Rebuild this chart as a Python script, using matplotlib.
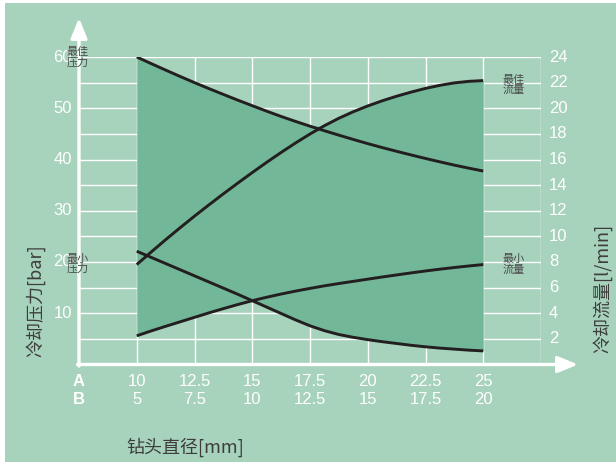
import numpy as np
import matplotlib
matplotlib.use("Agg")
import matplotlib.pyplot as plt
from matplotlib.patches import Rectangle

plt.rcParams['font.family'] = ['Liberation Sans', 'Noto Sans CJK SC', 'DejaVu Sans']

# ---- data (diameter A in mm) ----
diam_a = [10, 10.625, 11.25, 11.875, 12.5, 13.125, 13.75, 14.375, 15, 15.625, 16.25, 16.875,
          17.5, 18.125, 18.75, 19.375, 20, 20.625, 21.25, 21.875, 22.5, 23.125, 23.75, 24.375, 25]
max_pressure = [60, 58.71, 57.45, 56.21, 55.0, 53.83, 52.7, 51.58, 50.5, 49.43, 48.4, 47.43,
                46.5, 45.61, 44.75, 43.91, 43.1, 42.33, 41.6, 40.89, 40.2, 39.54, 38.9, 38.31, 37.75]   # bar
min_pressure = [22.1, 20.9, 19.7, 18.5, 17.3, 16.1, 14.9, 13.7, 12.45, 11.2, 9.95, 8.7,
                7.55, 6.6, 5.85, 5.3, 4.85, 4.45, 4.1, 3.75, 3.45, 3.2, 3.0, 2.8, 2.65]                # bar
max_flow = [7.80, 8.78, 9.74, 10.67, 11.58, 12.46, 13.32, 14.16, 14.98, 15.78, 16.55, 17.29,
            17.99, 18.64, 19.22, 19.73, 20.18, 20.58, 20.94, 21.26, 21.55, 21.79, 21.98, 22.10, 22.16]  # l/min
min_flow = [2.24, 2.62, 2.98, 3.33, 3.68, 4.03, 4.36, 4.68, 4.98, 5.25, 5.50, 5.73,
            5.94, 6.14, 6.32, 6.49, 6.66, 6.83, 6.99, 7.15, 7.30, 7.44, 7.57, 7.69, 7.80]             # l/min

a_ticks = [10, 12.5, 15, 17.5, 20, 22.5, 25]
a_labels = ['10', '12.5', '15', '17.5', '20', '22.5', '25']
b_labels = ['5', '7.5', '10', '12.5', '15', '17.5', '20']
left_ticks = [10, 20, 30, 40, 50, 60]
right_ticks = [2, 4, 6, 8, 10, 12, 14, 16, 18, 20, 22, 24]
flow_to_bar = 2.5

BG = '#a7d2bb'
FILL = '#72b797'
LINE = '#231f20'
TXT = '#3d3d3d'

W, H = 616, 462
fig = plt.figure(figsize=(W / 100, H / 100), dpi=100, facecolor='white')
fig.patches.append(Rectangle((5 / W, 0), 1, 1 - 3 / H, transform=fig.transFigure,
                             facecolor=BG, edgecolor='none', zorder=-10))

x0, x1 = 79, 541
y0, y1 = 364.5, 57
ax = fig.add_axes([x0 / W, 1 - y0 / H, (x1 - x0) / W, (y0 - y1) / H])
ax.set_xlim(7.5, 27.5)
ax.set_ylim(0, 60)
ax.set_facecolor('none')
for s in ax.spines.values():
    s.set_visible(False)
ax.set_xticks([])
ax.set_yticks([])

pxx = 20 / (x1 - x0)   # data units per pixel (x)
pxy = 60 / (y0 - y1)   # data units per pixel (y)

# grid
for v in np.arange(5, 61, 5):
    ax.plot([7.5, 27.5], [v, v], color='white', lw=1.0, zorder=1, solid_capstyle='butt')
for v in np.arange(10, 27.6, 2.5):
    ax.plot([v, v], [0, 60], color='white', lw=1.0, zorder=1, solid_capstyle='butt')

# fill
xa = np.array(diam_a)
mp = np.array(max_pressure); np_ = np.array(min_pressure)
mf = np.array(max_flow) * flow_to_bar; nf = np.array(min_flow) * flow_to_bar
top = np.maximum(mp, mf)
bot = np.minimum(np_, nf)
ax.fill_between(xa, bot, top, color=FILL, lw=0, zorder=2)

for series in (mp, np_, mf, nf):
    ax.plot(xa, series, color=LINE, lw=2.1, zorder=3, solid_capstyle='butt',
            solid_joinstyle='round')

# axes with arrows
ax.annotate('', xy=(7.5, 60 + 39 * pxy), xytext=(7.5, -1.5 * pxy),
            arrowprops=dict(arrowstyle='-|>,head_length=1.22,head_width=0.5', mutation_scale=10,
                            color='white', lw=2.4, shrinkA=0, shrinkB=0),
            annotation_clip=False, zorder=4)
ax.annotate('', xy=(7.5 + (578 - x0) * pxx, 0), xytext=(7.5 - 1.5 * pxx, 0),
            arrowprops=dict(arrowstyle='-|>,head_length=1.22,head_width=0.5', mutation_scale=10,
                            color='white', lw=2.4, shrinkA=0, shrinkB=0),
            annotation_clip=False, zorder=4)

# tick labels
for v in left_ticks:
    ax.text(7.5 - 7 * pxx, v, str(v), ha='right', va='center', color='white',
            fontsize=12, clip_on=False, zorder=5)
for v in right_ticks:
    ax.text(27.5 + 8 * pxx, v * flow_to_bar, str(v), ha='left', va='center', color='white',
            fontsize=12, clip_on=False, zorder=5)
ya = -(381 - y0) * pxy
yb = -(399 - y0) * pxy
ax.text(7.5, ya, 'A', ha='center', va='center', color='white', fontsize=12,
        fontweight='bold', clip_on=False)
ax.text(7.5, yb, 'B', ha='center', va='center', color='white', fontsize=12,
        fontweight='bold', clip_on=False)
for t, la, lb in zip(a_ticks, a_labels, b_labels):
    ax.text(t, ya, la, ha='center', va='center', color='white', fontsize=12, clip_on=False)
    ax.text(t, yb, lb, ha='center', va='center', color='white', fontsize=12, clip_on=False)

# curve annotations
cjk = ['Noto Sans CJK SC', 'DejaVu Sans']
ann_kw = dict(ha='left', va='center', color='#4a4a4a', fontsize=8, family=cjk,
              linespacing=1.0, clip_on=False, zorder=6)
ax.text(7.5 - 12 * pxx, (y0 - 57.5) * pxy, '最佳\n压力', **ann_kw)
ax.text(7.5 - 12 * pxx, (y0 - 264) * pxy, '最小\n压力', **ann_kw)
ax.text(7.5 + (503 - x0) * pxx, (y0 - 85) * pxy, '最佳\n流量', **ann_kw)
ax.text(7.5 + (503 - x0) * pxx, (y0 - 264.5) * pxy, '最小\n流量', **ann_kw)

# axis titles
fig.text(35 / W, 1 - 301 / H, '冷却压力[bar]', rotation=90, ha='center', va='center',
         color=TXT, fontsize=13, family=cjk)
fig.text(602 / W, 1 - 288 / H, '冷却流量[l/min]', rotation=90, ha='center', va='center',
         color=TXT, fontsize=13, family=cjk)
fig.text(185.5 / W, 1 - 447 / H, '钻头直径[mm]', ha='center', va='center',
         color=TXT, fontsize=13, family=cjk)

fig.savefig('out.png', dpi=100, facecolor='white')
